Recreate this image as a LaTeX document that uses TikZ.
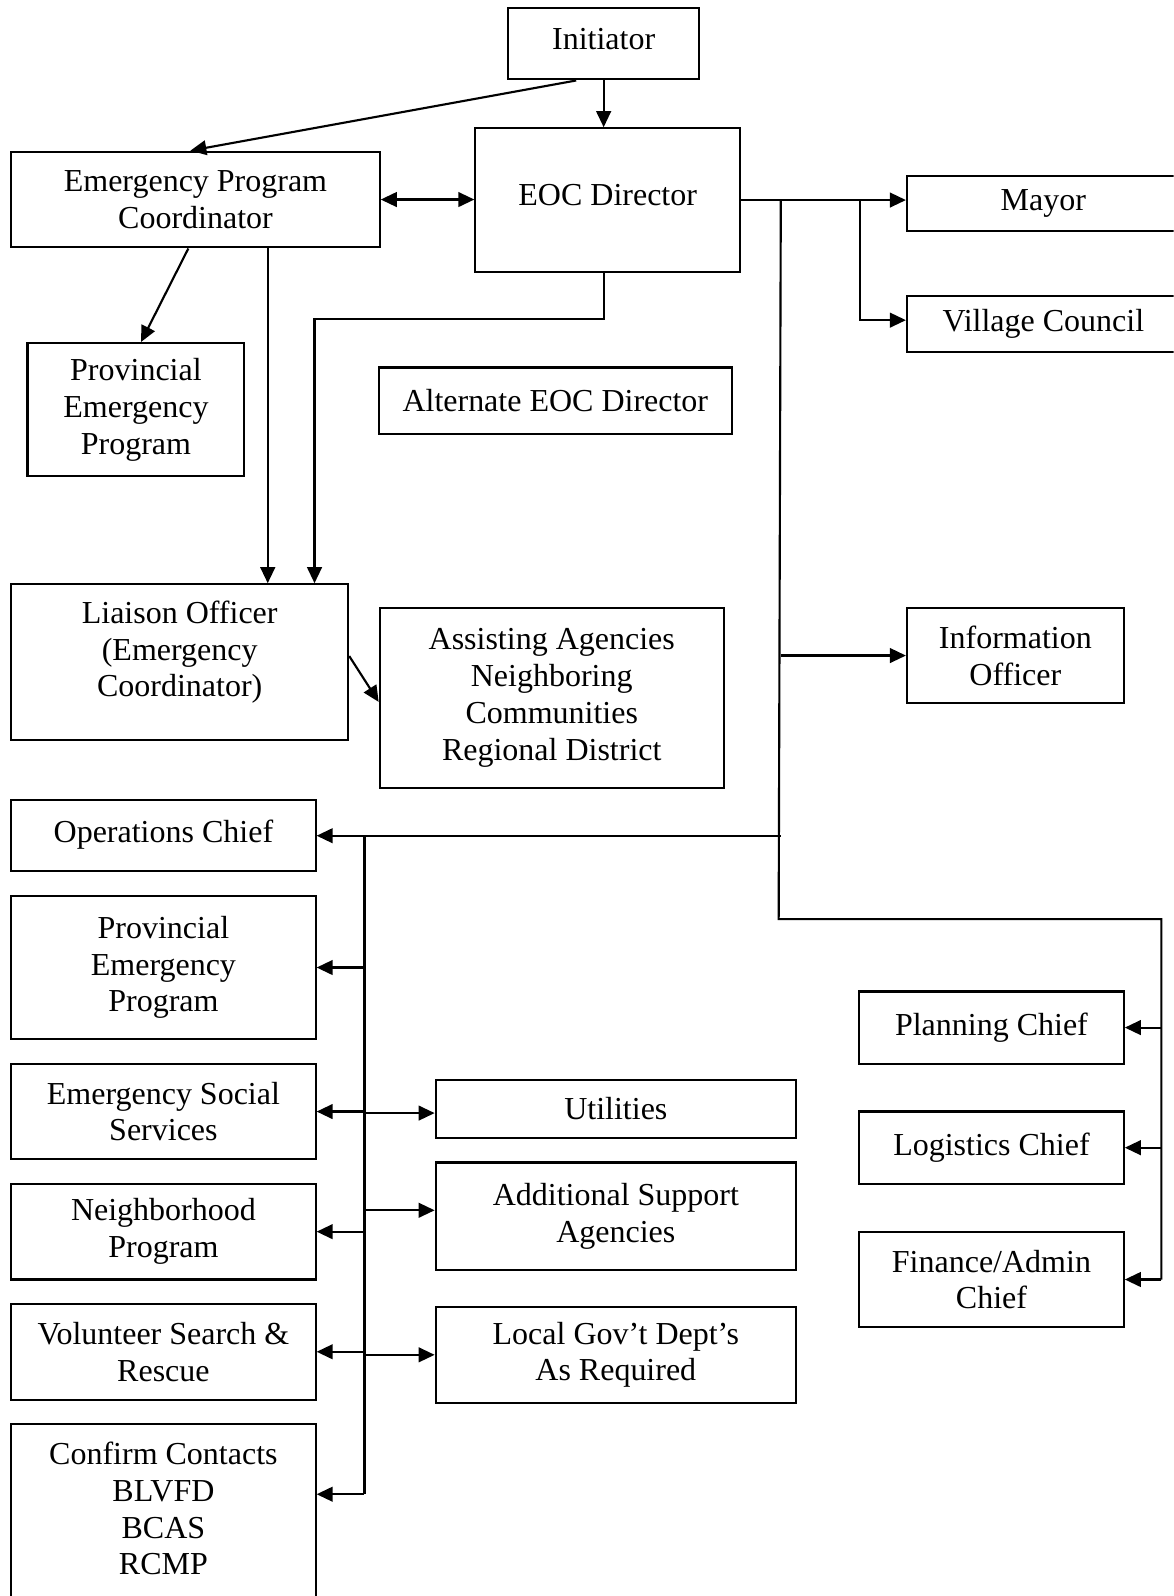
\documentclass[tikz,border=0pt]{standalone}
\usepackage{fontspec}
\setmainfont{Liberation Serif}
\usetikzlibrary{arrows.meta,calc,positioning}
\newlength\gu
\setlength\gu{0.3818pt}
\tikzset{
  box/.style={draw,line width=0.8pt,anchor=north west,align=center,inner sep=0pt,font=\fontsize{12}{13.8}\selectfont},
  edge/.style={-{Triangle[length=6pt,width=5.5pt]},line width=0.8pt},
  dedge/.style={{Triangle[length=6pt,width=5.5pt]}-{Triangle[length=6pt,width=5.5pt]},line width=0.8pt},
  uedge/.style={line width=0.8pt}
}

\begin{document}
\begin{tikzpicture}[x=\gu,y=-\gu]
\useasboundingbox (0,0) rectangle (1153,1568);
\clip (0,0) rectangle (1153,1568);
\node[box,minimum width=188*\gu,minimum height=70*\gu,text depth=4pt] (init) at (498,7) {Initiator};
\node[box,minimum width=260*\gu,minimum height=141*\gu,text depth=4pt] (eoc) at (466,125) {EOC Director};
\node[box,minimum width=362*\gu,minimum height=94*\gu] (epc) at (10,148) {Emergency Program\\Coordinator};
\node[box,minimum width=268*\gu,minimum height=54*\gu] (mayor) at (890,172) {Mayor};
\node[box,minimum width=268*\gu,minimum height=55*\gu] (council) at (890,290) {Village Council};
\node[box,minimum width=213*\gu,minimum height=131*\gu] (prov) at (26,336) {Provincial\\Emergency\\Program};
\node[box,minimum width=347*\gu,minimum height=65*\gu] (alt) at (371,360) {Alternate EOC Director};
\node[box,minimum width=331*\gu,minimum height=153*\gu,text depth=10pt] (liaison) at (10,573) {Liaison Officer\\(Emergency\\Coordinator)};
\node[box,minimum width=338*\gu,minimum height=177*\gu] (assist) at (372,596) {Assisting Agencies\\Neighboring\\Communities\\Regional District};
\node[box,minimum width=213*\gu,minimum height=94*\gu] (info) at (890,596) {Information\\Officer};
\node[box,minimum width=299*\gu,minimum height=70*\gu,text depth=3pt] (ops) at (10,785) {Operations Chief};
\node[box,minimum width=299*\gu,minimum height=141*\gu] (prov2) at (10,879) {Provincial\\Emergency\\Program};
\node[box,minimum width=299*\gu,minimum height=94*\gu] (ess) at (10,1044) {Emergency Social\\Services};
\node[box,minimum width=299*\gu,minimum height=94*\gu] (neigh) at (10,1162) {Neighborhood\\Program};
\node[box,minimum width=299*\gu,minimum height=94*\gu] (vol) at (10,1280) {Volunteer Search \&\\Rescue};
\node[box,minimum width=299*\gu,minimum height=200*\gu,text depth=13pt] (confirm) at (10,1398) {Confirm Contacts\\BLVFD\\BCAS\\RCMP};
\node[box,minimum width=354*\gu,minimum height=57*\gu] (util) at (427,1060) {Utilities};
\node[box,minimum width=354*\gu,minimum height=106*\gu] (addl) at (427,1141) {Additional Support\\Agencies};
\node[box,minimum width=354*\gu,minimum height=94*\gu] (gov) at (427,1283) {Local Gov’t Dept’s\\As Required};
\node[box,minimum width=260*\gu,minimum height=71*\gu] (plan) at (843,973) {Planning Chief};
\node[box,minimum width=260*\gu,minimum height=71*\gu] (logi) at (843,1091) {Logistics Chief};
\node[box,minimum width=260*\gu,minimum height=94*\gu] (fin) at (843,1209) {Finance/Admin\\Chief};

\draw[edge] (init.south) -- (init.south |- eoc.north);
\draw[edge] ($(init.south)+(-27,0)$) -- ($(epc.north)+(-5,0)$);
\draw[dedge] (epc.east) -- (epc.east -| eoc.west);
\draw[edge] ($(epc.south)+(-7,0)$) -- ($(prov.north)+(5,0)$);
\coordinate (p1) at ($(epc.south)+(71,0)$);
\draw[edge] (p1) -- (p1 |- liaison.north);
\coordinate (p2) at (309,313);
\draw[edge] (eoc.south -| init.south) |- (p2) -- (p2 |- liaison.north);
\draw[edge] ($(liaison.east)+(0,-6)$) -- ($(assist.west)+(0,4)$);

\draw[edge] (eoc.east) -- (eoc.east -| mayor.west);
\coordinate (b1) at ($(eoc.east)+(117,0)$);
\draw[edge] (b1) |- ($(council.west)+(0,-4)$);
\coordinate (t1) at ($(eoc.east)+(39,0)$);
\coordinate (t2) at (765,903);
\coordinate (t3) at (1141,903);
\draw[uedge] (t1) -- (t2) -- (t3) -- (t3 |- fin.east);
\draw[edge] (t1 |- info.west) -- (info.west);
\draw[edge] (t1 |- ops.east) -- (ops.east);
\foreach \n in {plan,logi,fin}
  \draw[edge] (t3 |- \n.east) -- (\n.east);

\coordinate (s1) at ($(ops.east)+(47,0)$);
\coordinate (s2) at ($(confirm.north east)+(0,70)$);
\draw[uedge] (s1) -- (s1 |- s2);
\foreach \n in {prov2,ess,neigh,vol}
  \draw[edge] (s1 |- \n.east) -- (\n.east);
\draw[edge] (s1 |- s2) -- (s2);
\foreach \n/\d in {util/4,addl/-6,gov/0}
  \draw[edge] ($(s1 |- \n.west)+(0,\d)$) -- ($(\n.west)+(0,\d)$);
\end{tikzpicture}
\end{document}
